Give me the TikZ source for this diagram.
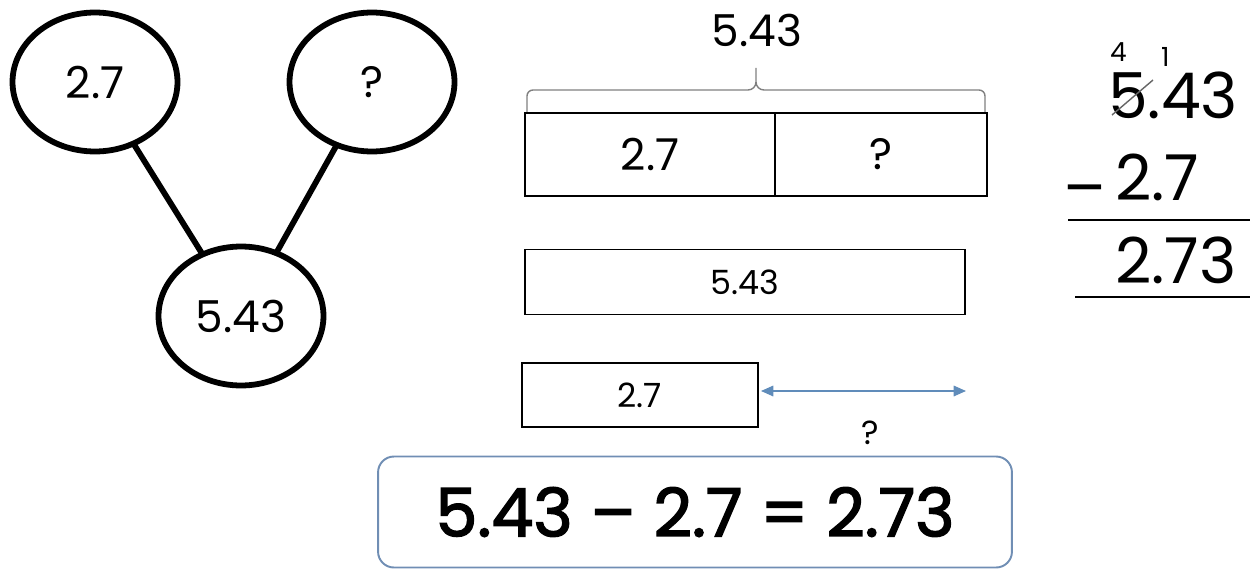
\documentclass[tikz,border=0pt]{standalone}
\usepackage{fontspec}
\setmainfont{Poppins}
\newfontfamily\eqfont{Poppins}[FakeBold=2.2]
\usetikzlibrary{shapes.geometric,arrows.meta}
\definecolor{steel}{RGB}{96,140,186}
\definecolor{boxblue}{RGB}{112,142,180}

\begin{document}
\begin{tikzpicture}[x=0.02cm,y=-0.02cm,
  every node/.style={inner sep=0pt,outer sep=0pt},
  bubble/.style={draw,ellipse,line width=3.3pt,minimum width=3.3cm,minimum height=2.78cm,font=\fontsize{25}{28}\selectfont},
  bar/.style={draw,line width=1.6pt,font=\fontsize{25}{28}\selectfont},
  thinbar/.style={draw,line width=1.1pt,font=\fontsize{19}{22}\selectfont},
  colnum/.style={anchor=base west,font=\fontsize{36}{40}\selectfont},
  carry/.style={anchor=base west,font=\fontsize{15}{18}\selectfont}]
 \useasboundingbox (0,0) rectangle (1250,571);
 % number bond
 \node[bubble] (part1) at (95,82) {2.7};
 \node[bubble] (part2) at (372,82) {?};
 \node[bubble] (whole) at (241,316) {5.43};
 \draw[line width=3.3pt] (part1) -- (whole);
 \draw[line width=3.3pt] (part2) -- (whole);
 % part-whole bar
 \node[bar,minimum width=5cm,minimum height=1.66cm,anchor=north west] (cellA) at (525,113) {2.7};
 \node[bar,minimum width=4.24cm,minimum height=1.66cm,anchor=north west] (cellB) at (cellA.north east) {?};
 \node[font=\fontsize{25}{28}\selectfont] (total) at (757,30) {5.43};
 \draw[gray,line width=0.8pt] (527,112) -- (527,96) to[out=90,in=180] (533,90) -- (748,90) to[out=0,in=-90] (756,82) -- (756,68);
 \draw[gray,line width=0.8pt] (985,112) -- (985,96) to[out=90,in=0] (979,90) -- (764,90) to[out=180,in=-90] (756,82);
 % comparison bars
 \node[thinbar,minimum width=8.8cm,minimum height=1.3cm] (longbar) at (745,282) {5.43};
 \node[thinbar,minimum width=4.72cm,minimum height=1.28cm] (shortbar) at (640,395) {2.7};
 \coordinate (gapend) at (966,391);
 \draw[steel,line width=0.9pt,{Triangle[length=7pt,width=6pt]}-{Triangle[length=7pt,width=6pt]}] ([shift={(3,-4)}]shortbar.east) -- (gapend);
 \node[font=\fontsize{19}{22}\selectfont] (gap) at (870,433) {?};
 % equation
 \node[draw=boxblue,line width=1.1pt,rounded corners=9pt,minimum width=12.68cm,minimum height=2.22cm,font=\fontsize{38}{42}\selectfont] (eqn) at (695,512) {\eqfont 5.43 – 2.7 = 2.73};
 % column subtraction
 \node[carry] (borrow) at (1110,62) {4};
 \node[carry] (lend) at (1161,67) {1};
 \node[colnum] (minuend) at (1108,118) {5.43};
 \draw[gray!80!black,line width=0.8pt] (1112,115) -- (1153,80);
 \node[colnum] (minus) at (1063,210) {–};
 \node[colnum] (subtr) at (1115,200) {2.7};
 \draw[line width=1.2pt] (1068,220) -- (1250,220);
 \node[colnum] (result) at (1115,283) {2.73};
 \draw[line width=1.2pt] (1075,297) -- (1250,297);
\end{tikzpicture}
\end{document}
